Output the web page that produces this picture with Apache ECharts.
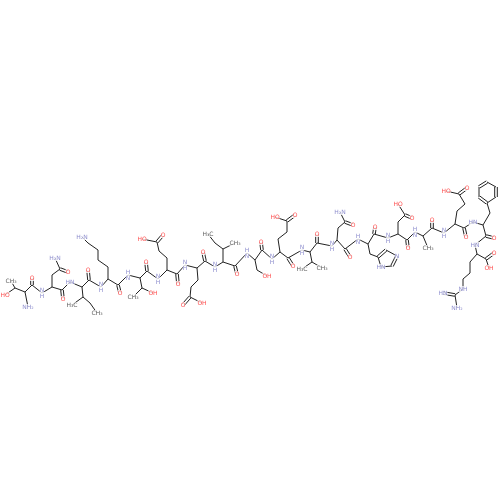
<!DOCTYPE html>
<html>
<head>
<meta charset="utf-8">
<script src="https://cdn.jsdelivr.net/npm/echarts@6/dist/echarts.min.js"></script>
<style>html,body{margin:0;padding:0;background:#fff}#chart{width:500px;height:500px}</style>
</head>
<body>
<div id="chart"></div>
<script>
(function(){
    // atoms: name, x, y, label ('' = plain carbon)
    var atoms = [
        ['CG1',11,281,'CH₃'],['CB1',15,288,''],['OG1',5,295,'HO'],['CA1',25,292,''],['N1',28,307,'NH₂'],['C1',32,285,''],['O1',32,278,'O'],
        ['N2',42,293,'N\nH'],
        ['CA2',52,287,''],['CB2',52,275,''],['CG2',60,269,''],['ND2',55,258,'H₂N'],['OD2',68,272,'O'],['C2',62,290,''],['O2',63,299,'O'],
        ['N3',70,282,'HN'],
        ['CA3',82,287,''],['C3',89,280,''],['O3',88,270,'O'],['CB3',83,297,''],['CM3',72,305,'H₃C'],['CG3',90,303,''],['CD3',97,313,'CH₃'],
        ['N4',101,287,'N\nH'],
        ['CA4',108,279,''],['CB4',108,267,''],['CG4',98,260,''],['CD4',98,250,''],['CE4',88,243,''],['NZ4',82,237,'H₂N'],['C4',118,285,''],['O4',120,293,'O'],
        ['N5',128,275,'H\nN'],
        ['CA5',140,278,''],['C5',147,271,''],['O5',146,262,'O'],['CB5',142,288,''],['CG5',133,297,'CH₃'],['OG5',153,293,'OH'],
        ['N6',158,279,'N\nH'],
        ['CA6',167,270,''],['CB6',167,258,''],['CG6',159,251,''],['CD6',157,242,''],['OE61',142,239,'HO'],['OE62',163,235,'O'],['C6',177,274,''],['O6',178,284,'O'],
        ['N7',185,265,'N\nH'],
        ['CA7',197,268,''],['CB7',198,280,''],['CG7',191,287,''],['CD7',190,297,''],['OE71',183,305,'O'],['OE72',202,303,'OH'],['C7',205,261,''],['O7',203,252,'O'],
        ['N8',215,267,'N\nH'],
        ['CA8',223,262,''],['CB8',223,249,''],['CM8',235,243,'CH₃'],['CG8',215,243,''],['CD8',208,234,'H₃C'],['C8',235,266,''],['O8',237,274,'O'],
        ['N9',247,253,'H\nN'],
        ['CA9',255,260,''],['CB9',257,270,''],['OG9',267,276,'OH'],['C9',262,250,''],['O9',261,242,'O'],
        ['N10',272,259,'N\nH'],
        ['CA10',280,252,''],['CB10',278,239,''],['CG10',287,232,''],['CD10',287,221,''],['OE101',275,217,'HO'],['OE102',295,215,'O'],['C10',288,258,''],['O10',293,266,'O'],
        ['N11',302,250,'N\nH'],
        ['CA11',310,252,''],['CB11',312,262,''],['CM11a',302,269,'H₃C'],['CM11b',322,268,'CH₃'],['C11',317,243,''],['O11',317,234,'O'],
        ['N12',332,246,'N\nH'],
        ['CA12',337,240,''],['CB12',338,228,''],['CG12',345,222,''],['ND12',340,212,'H₂N'],['OD12',353,225,'O'],['C12',345,249,''],['O12',350,257,'O'],
        ['N13',358,239,'H\nN'],
        ['CA13',368,244,''],['CB13',370,254,''],['CG13',378,257,''],['CD13',386,250,''],['NE13',397,256,'N'],['CE13',392,266,''],['ND13',381,267,'HN'],['C13',374,234,''],['O13',375,227,'O'],
        ['N14',388,238,'N\nH'],
        ['CA14',398,234,''],['CB14',398,222,''],['CG14',405,215,''],['OD141',398,204,'HO'],['OD142',412,218,'O'],['C14',407,240,''],['O14',408,248,'O'],
        ['N15',415,232,'H\nN'],
        ['CA15',423,236,''],['CB15',428,248,'CH₃'],['C15',432,228,''],['O15',432,220,'O'],
        ['N16',444,233,'N\nH'],
        ['CA16',455,224,''],['CB16',457,211,''],['CG16',465,204,''],['CD16',459,194,''],['OE161',446,191,'HO'],['OE162',467,188,'O'],['C16',464,228,''],['O16',466,237,'O'],
        ['N17',473,222,'HN'],
        ['CA17',483,225,''],['CB17',490,213,''],['R1',487,203,''],['R2',479,197,''],['R3',479,187,''],['R4',487,182,''],['R5',496,187,''],['R6',496,197,''],
        ['C17',486,236,''],['O17',494,238,'O'],
        ['N18',475,245,'HN'],
        ['CA18',477,254,''],['C18',486,259,''],['O18a',494,253,'O'],['O18b',489,268,'OH'],['CB18',470,262,''],['CG18',470,273,''],['CD18',463,279,''],
        ['NE18',463,289,'NH'],['CZ18',455,295,''],['NH18a',443,293,'HN'],['NH18b',457,308,'NH₂']
    ];

    // bonds: from, to, order
    var bonds = [
        ['CG1','CB1',1],['CB1','OG1',1],['CB1','CA1',1],['CA1','N1',1],['CA1','C1',1],['C1','O1',2],['C1','N2',1],
        ['N2','CA2',1],['CA2','CB2',1],['CB2','CG2',1],['CG2','ND2',1],['CG2','OD2',2],['CA2','C2',1],['C2','O2',2],['C2','N3',1],
        ['N3','CA3',1],['CA3','C3',1],['C3','O3',2],['CA3','CB3',1],['CB3','CM3',1],['CB3','CG3',1],['CG3','CD3',1],['C3','N4',1],
        ['N4','CA4',1],['CA4','CB4',1],['CB4','CG4',1],['CG4','CD4',1],['CD4','CE4',1],['CE4','NZ4',1],['CA4','C4',1],['C4','O4',2],['C4','N5',1],
        ['N5','CA5',1],['CA5','C5',1],['C5','O5',2],['CA5','CB5',1],['CB5','CG5',1],['CB5','OG5',1],['C5','N6',1],
        ['N6','CA6',1],['CA6','CB6',1],['CB6','CG6',1],['CG6','CD6',1],['CD6','OE61',1],['CD6','OE62',2],['CA6','C6',1],['C6','O6',2],['C6','N7',1],
        ['N7','CA7',1],['CA7','CB7',1],['CB7','CG7',1],['CG7','CD7',1],['CD7','OE71',2],['CD7','OE72',1],['CA7','C7',1],['C7','O7',2],['C7','N8',1],
        ['N8','CA8',1],['CA8','CB8',1],['CB8','CM8',1],['CB8','CG8',1],['CG8','CD8',1],['CA8','C8',1],['C8','O8',2],['C8','N9',1],
        ['N9','CA9',1],['CA9','CB9',1],['CB9','OG9',1],['CA9','C9',1],['C9','O9',2],['C9','N10',1],
        ['N10','CA10',1],['CA10','CB10',1],['CB10','CG10',1],['CG10','CD10',1],['CD10','OE101',1],['CD10','OE102',2],['CA10','C10',1],['C10','O10',2],['C10','N11',1],
        ['N11','CA11',1],['CA11','CB11',1],['CB11','CM11a',1],['CB11','CM11b',1],['CA11','C11',1],['C11','O11',2],['C11','N12',1],
        ['N12','CA12',1],['CA12','CB12',1],['CB12','CG12',1],['CG12','ND12',1],['CG12','OD12',2],['CA12','C12',1],['C12','O12',2],['C12','N13',1],
        ['N13','CA13',1],['CA13','CB13',1],['CB13','CG13',1],['CG13','CD13',2],['CD13','NE13',1],['NE13','CE13',2],['CE13','ND13',1],['ND13','CG13',1],
        ['CA13','C13',1],['C13','O13',2],['C13','N14',1],
        ['N14','CA14',1],['CA14','CB14',1],['CB14','CG14',1],['CG14','OD141',1],['CG14','OD142',2],['CA14','C14',1],['C14','O14',2],['C14','N15',1],
        ['N15','CA15',1],['CA15','CB15',1],['CA15','C15',1],['C15','O15',2],['C15','N16',1],
        ['N16','CA16',1],['CA16','CB16',1],['CB16','CG16',1],['CG16','CD16',1],['CD16','OE161',1],['CD16','OE162',2],['CA16','C16',1],['C16','O16',2],['C16','N17',1],
        ['N17','CA17',1],['CA17','CB17',1],['CB17','R1',1],['R1','R2',2],['R2','R3',1],['R3','R4',2],['R4','R5',1],['R5','R6',2],['R6','R1',1],
        ['CA17','C17',1],['C17','O17',2],['C17','N18',1],
        ['N18','CA18',1],['CA18','C18',1],['C18','O18a',2],['C18','O18b',1],['CA18','CB18',1],['CB18','CG18',1],['CG18','CD18',1],
        ['CD18','NE18',1],['NE18','CZ18',1],['CZ18','NH18a',2],['CZ18','NH18b',1]
    ];

    var pos = {};
    atoms.forEach(function(a){ pos[a[0]] = a; });

    var bondData = bonds.map(function(b){
        var p = pos[b[0]], q = pos[b[1]];
        return [p[1], p[2], q[1], q[2], b[2]];
    });

    function labelColor(t){
        if(t.indexOf('O') >= 0) return '#ff2020';
        if(t.indexOf('N') >= 0) return '#7070c0';
        return '#333';
    }

    var labelData = atoms.filter(function(a){ return a[3] !== ''; }).map(function(a){
        return {
            value: [a[1], a[2]],
            label: {show: true, formatter: a[3], color: labelColor(a[3])}
        };
    });

    var chart = echarts.init(document.getElementById('chart'));
    chart.setOption({
        animation: false,
        backgroundColor: '#fff',
        grid: {left: 0, right: 0, top: 0, bottom: 0},
        xAxis: {type: 'value', min: 0, max: 500, show: false},
        yAxis: {type: 'value', min: 0, max: 500, inverse: true, show: false},
        series: [
            {
                type: 'custom',
                data: bondData,
                z: 1,
                renderItem: function(params, api){
                    var a = api.coord([api.value(0), api.value(1)]);
                    var b = api.coord([api.value(2), api.value(3)]);
                    var order = api.value(4);
                    var st = {stroke: '#222', lineWidth: 1};
                    if(order === 1){
                        return {type: 'line', shape: {x1: a[0], y1: a[1], x2: b[0], y2: b[1]}, style: st};
                    }
                    var dx = b[0] - a[0], dy = b[1] - a[1];
                    var len = Math.sqrt(dx*dx + dy*dy) || 1;
                    var ox = -dy / len * 1.3, oy = dx / len * 1.3;
                    return {type: 'group', children: [
                        {type: 'line', shape: {x1: a[0]+ox, y1: a[1]+oy, x2: b[0]+ox, y2: b[1]+oy}, style: st},
                        {type: 'line', shape: {x1: a[0]-ox, y1: a[1]-oy, x2: b[0]-ox, y2: b[1]-oy}, style: st}
                    ]};
                }
            },
            {
                type: 'scatter',
                symbolSize: 0,
                z: 5,
                data: labelData,
                label: {
                    show: true,
                    position: 'inside',
                    fontSize: 6,
                    lineHeight: 6,
                    fontFamily: 'DejaVu Sans',
                    backgroundColor: '#fff',
                    padding: [0, 0]
                }
            }
        ]
    });
})();
</script>
</body>
</html>
